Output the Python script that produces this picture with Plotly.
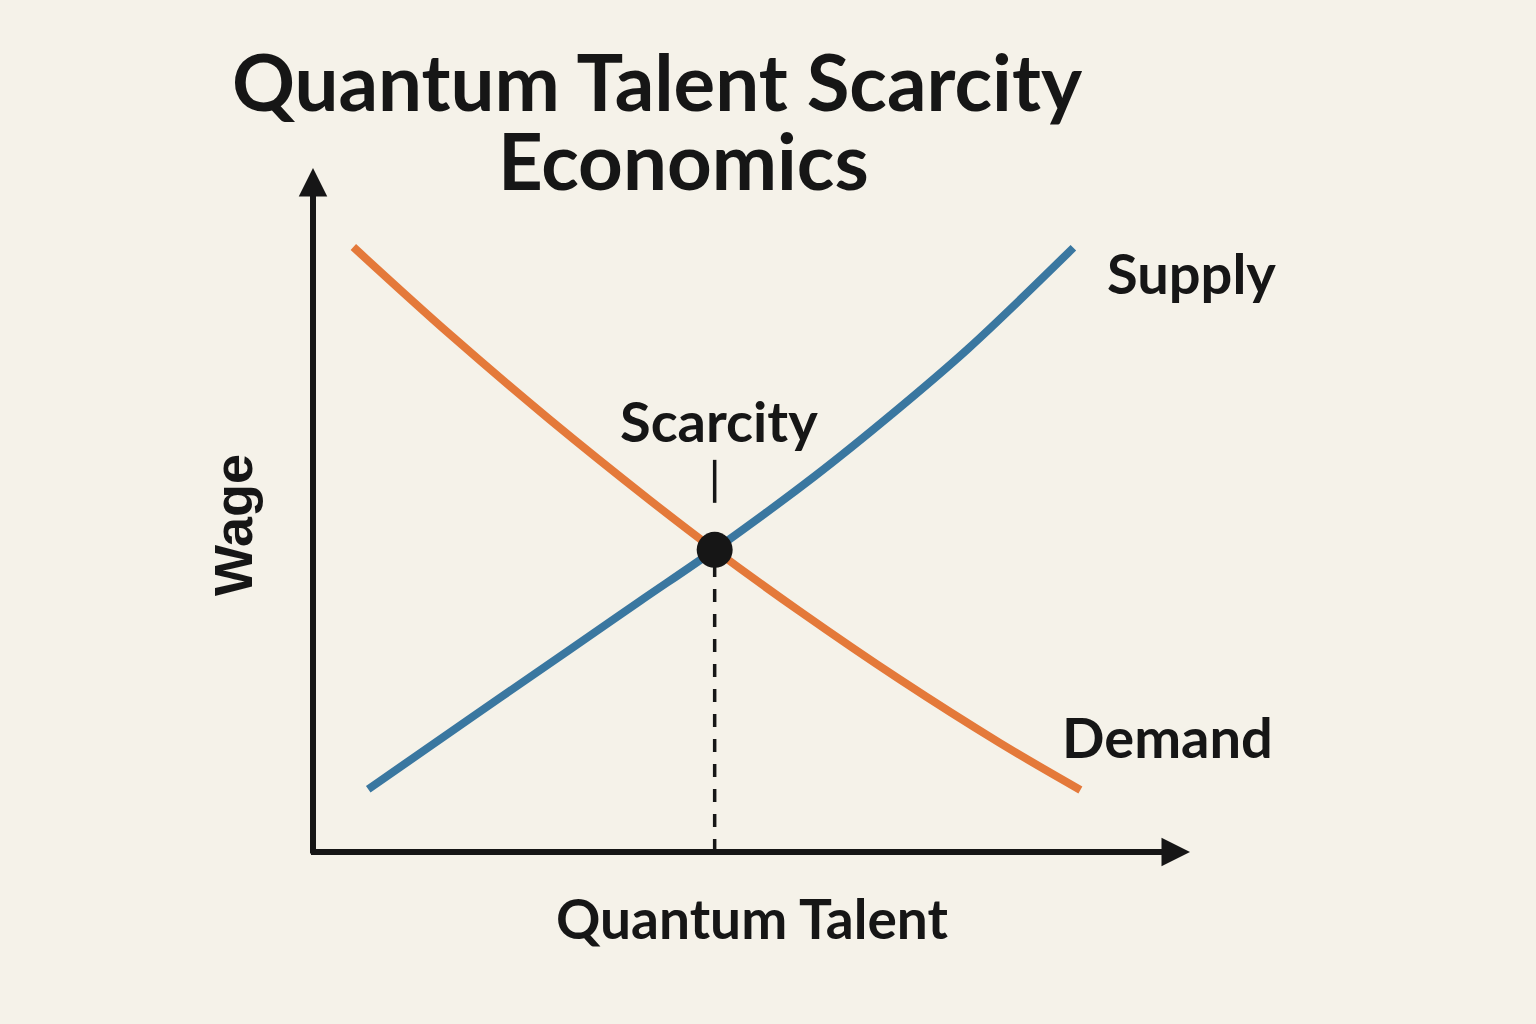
import plotly.graph_objects as go

# curves (talent on x, wage on y, arbitrary 0-10 units)
supply_x = [0.63, 1.77, 2.91, 3.73, 4.58, 5.72, 6.59, 7.47, 8.67]
supply_y = [0.92, 1.94, 2.95, 3.68, 4.43, 5.51, 6.41, 7.38, 8.86]

demand_x = [0.46, 1.56, 2.70, 3.84, 4.58, 5.55, 6.69, 7.83, 8.75]
demand_y = [8.87, 7.59, 6.34, 5.16, 4.43, 3.53, 2.53, 1.60, 0.91]

# equilibrium / scarcity point
eq_x = [4.58]
eq_y = [4.43]
scarcity_tick = [5.12, 5.75]

BG = "#F5F2E9"
INK = "#161616"
BLUE = "#3A77A0"
ORANGE = "#E4793A"
FONT = "Lato"

fig = go.Figure()

# dashed drop line from the point to the x axis
fig.add_trace(go.Scatter(x=[eq_x[0], eq_x[0]], y=[0, eq_y[0]], mode="lines",
                         line=dict(color=INK, width=3.5, dash="13px,12px"),
                         hoverinfo="skip", showlegend=False))
# small solid tick under the label
fig.add_trace(go.Scatter(x=[eq_x[0], eq_x[0]], y=scarcity_tick, mode="lines",
                         line=dict(color=INK, width=3.5),
                         hoverinfo="skip", showlegend=False))

fig.add_trace(go.Scatter(x=supply_x, y=supply_y, mode="lines", name="Supply",
                         line=dict(color=BLUE, width=8, shape="spline", smoothing=1),
                         showlegend=False))
fig.add_trace(go.Scatter(x=demand_x, y=demand_y, mode="lines", name="Demand",
                         line=dict(color=ORANGE, width=8, shape="spline", smoothing=1),
                         showlegend=False))

fig.add_trace(go.Scatter(x=eq_x, y=eq_y, mode="markers",
                         marker=dict(color=INK, size=36),
                         hoverinfo="skip", showlegend=False))

# axes drawn as arrows
head = dict(text="", showarrow=True, arrowhead=2, arrowwidth=6,
            arrowsize=0.95, arrowcolor=INK)
# y axis: tip in paper units, tail given in pixels below it
fig.add_annotation(x=0, y=1.003, xref="x", yref="paper", ax=0, ay=687, **head)
# x axis
fig.add_annotation(x=10.0, y=0, xref="x", yref="y", axref="x", ayref="y",
                   ax=-0.04, ay=0, **head)

labels = [
    ("Quantum Talent Scarcity", 0.393, 1.131, 78),
    ("Economics", 0.422, 1.014, 78),
    ("Quantum Talent", 0.501, -0.097, 55),
]
for text, x, y, size in labels:
    fig.add_annotation(x=x, y=y, xref="paper", yref="paper", text=text, showarrow=False,
                       xanchor="center", yanchor="middle",
                       font=dict(family=FONT, size=size, color=INK, weight="bold"))

curve_labels = [
    ("Supply", 9.03, 8.50, "left"),
    ("Demand", 8.52, 1.69, "left"),
    ("Scarcity", 4.63, 6.33, "center"),
]
for text, x, y, anchor in curve_labels:
    fig.add_annotation(x=x, y=y, xref="x", yref="y", text=text, showarrow=False,
                       xanchor=anchor, yanchor="middle",
                       font=dict(family=FONT, size=56, color=INK, weight="bold"))

fig.add_annotation(x=-0.092, y=0.48, xref="paper", yref="paper", text="Wage",
                   showarrow=False, textangle=-90, xanchor="center", yanchor="middle",
                   font=dict(family="Liberation Sans", size=54, color=INK, weight="bold"))

fig.update_layout(
    width=1536, height=1024,
    margin=dict(l=313, r=346, t=170, b=172),
    paper_bgcolor=BG, plot_bgcolor=BG,
    xaxis=dict(range=[0, 10], visible=False, fixedrange=True),
    yaxis=dict(range=[0, 10], visible=False, fixedrange=True),
    showlegend=False,
)

fig.write_html("out.html", config={"displayModeBar": False},
               post_script="document.body.style.margin='0';"
                           "document.body.style.background='%s';" % BG)
